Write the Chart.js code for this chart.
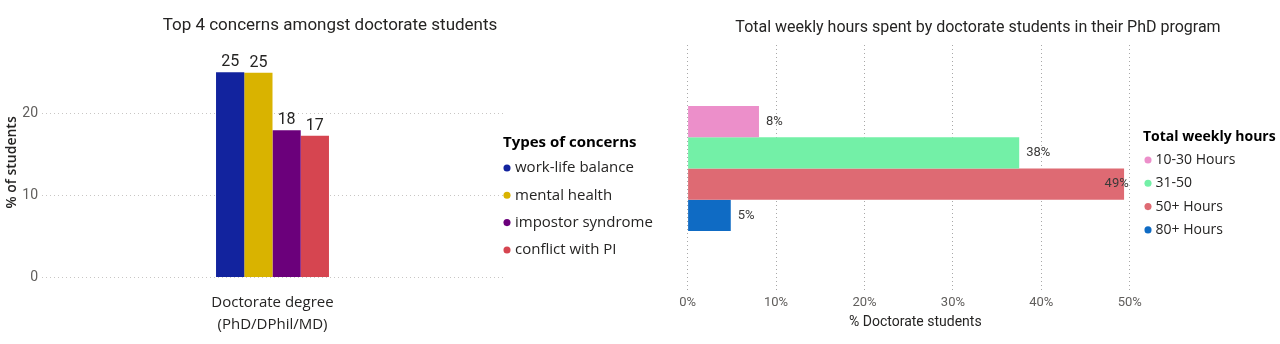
<!DOCTYPE html>
<html>
<head>
<meta charset="utf-8">
<script src="https://cdn.jsdelivr.net/npm/chart.js@4"></script>
<style>
  body { margin: 0; background: #fff; width: 1280px; height: 344px; overflow: hidden; position: relative; }
  canvas { position: absolute; top: 0; }
  #concerns { left: 0; }
  #hours { left: 676px; }
</style>
</head>
<body>
<canvas id="concerns" width="660" height="344"></canvas>
<canvas id="hours" width="604" height="344"></canvas>
<script>
// left chart: top 4 concerns
const concernCategory = [['Doctorate degree', '(PhD/DPhil/MD)']];
const concernNames = ['work-life balance', 'mental health', 'impostor syndrome', 'conflict with PI'];
const concernValues = [24.97, 24.9, 17.9, 17.25];
const concernColors = ['#12239E', '#D9B300', '#6B007B', '#D64550'];
const concernTicks = [0, 10, 20];

// right chart: weekly hours
const hoursCategory = ['Doctorate degree'];
const hoursNames = ['10-30 Hours', '31-50', '50+ Hours', '80+ Hours'];
const hoursValues = [8.07, 37.5, 49.36, 4.88];
const hoursColors = ['#EC8FCA', '#73F0A7', '#DE6A73', '#0F6BC4'];
const hoursTicks = [0, 10, 20, 30, 40, 50];

const darkText = '#252423';
const greyText = '#605e5c';

// draws the value labels next to each bar
const barLabels = {
  id: 'barLabels',
  afterDatasetsDraw(chart, args, opts) {
    const ctx = chart.ctx;
    const horizontal = chart.options.indexAxis === 'y';
    ctx.save();
    ctx.font = opts.font;
    ctx.fillStyle = opts.color;
    chart.data.datasets.forEach((ds, i) => {
      chart.getDatasetMeta(i).data.forEach((bar, j) => {
        const text = Math.round(ds.data[j]) + opts.suffix;
        if (horizontal) {
          const xs = chart.scales.x;
          const right = xs.getPixelForValue(xs.ticks[xs.ticks.length - 1].value) - 1;
          const w = ctx.measureText(text).width;
          let x = bar.x + opts.gap;
          if (x + w > right) x = right - w;
          ctx.textAlign = 'left';
          ctx.textBaseline = 'middle';
          ctx.fillText(text, x, bar.y);
        } else {
          ctx.textAlign = 'center';
          ctx.textBaseline = 'alphabetic';
          ctx.fillText(text, bar.x, bar.y - opts.gap);
        }
      });
    });
    ctx.restore();
  }
};

// legend text as one-line arrays so font lineHeight sets the row spacing;
// trailing spaces only widen the legend box so its title is not clipped
const wrapLabels = extra => chart =>
  Chart.defaults.plugins.legend.labels.generateLabels(chart)
    .map(l => ({ ...l, text: [l.text + '\u00a0'.repeat(extra)] }));

new Chart(document.getElementById('concerns'), {
  type: 'bar',
  data: {
    labels: concernCategory,
    datasets: concernNames.map((name, i) => ({
      label: name,
      data: [concernValues[i]],
      backgroundColor: concernColors[i],
      categoryPercentage: 0.245,
      barPercentage: 1
    }))
  },
  options: {
    responsive: false,
    animation: false,
    layout: { padding: 0 },
    scales: {
      x: {
        grid: { display: false },
        border: { display: false },
        ticks: { color: darkText, padding: 6, font: { family: 'Open Sans', size: 15, lineHeight: 1.49 } },
        afterFit: s => { s.height = 66.5; }
      },
      y: {
        min: 0,
        max: 28,
        afterBuildTicks: axis => { axis.ticks = concernTicks.map(v => ({ value: v })); },
        afterFit: s => { s.width = 42; },
        grid: { color: '#c8c6c4', drawTicks: false },
        border: { display: false, dash: [1, 3] },
        ticks: { color: greyText, padding: 4, font: { family: 'Roboto', size: 14 } },
        title: { display: true, text: '% of students', color: darkText, padding: { top: 4, bottom: 0 },
                 font: { family: 'Open Sans', size: 14, weight: '600', lineHeight: 1.2 } }
      }
    },
    plugins: {
      title: { display: true, text: 'Top 4 concerns amongst doctorate students', color: darkText,
               font: { family: 'Roboto', size: 17, weight: 'normal', lineHeight: 1.2 },
               padding: { top: 15.8, bottom: 11.1 } },
      legend: {
        position: 'right',
        align: 'start',
        maxWidth: 157,
        title: { display: true, text: 'Types of concerns', position: 'start', color: '#000',
                 font: { family: 'Open Sans', size: 15, weight: 'bold', lineHeight: 1.2 },
                 padding: { top: 135.5, bottom: 3.5 } },
        labels: { usePointStyle: true, pointStyle: 'circle', boxWidth: 1, boxHeight: 5, padding: 3.5,
                  color: darkText, font: { family: 'Open Sans', size: 15, lineHeight: 1.587 },
                  generateLabels: wrapLabels(0) }
      },
      tooltip: { enabled: false },
      barLabels: { font: '16px Roboto', color: darkText, suffix: '', gap: 6 }
    }
  },
  plugins: [barLabels]
});

new Chart(document.getElementById('hours'), {
  type: 'bar',
  data: {
    labels: hoursCategory,
    datasets: hoursNames.map((name, i) => ({
      label: name,
      data: [hoursValues[i]],
      backgroundColor: hoursColors[i],
      categoryPercentage: 0.506,
      barPercentage: 1
    }))
  },
  options: {
    indexAxis: 'y',
    responsive: false,
    animation: false,
    layout: { padding: 0 },
    scales: {
      x: {
        min: 0,
        max: 51.5,
        afterBuildTicks: axis => { axis.ticks = hoursTicks.map(v => ({ value: v })); },
        afterFit: s => { s.height = 52; },
        grid: { color: '#a8a8a8', drawTicks: false },
        border: { display: false, dash: [1, 3] },
        ticks: { color: greyText, padding: 3.2, font: { family: 'Roboto', size: 13 }, callback: v => v + '%' },
        title: { display: true, text: '% Doctorate students', color: darkText, padding: { top: 0, bottom: 13.6 },
                 font: { family: 'Roboto', size: 14, lineHeight: 1.2 } }
      },
      y: {
        afterFit: s => { s.width = 10; },
        grid: { display: false },
        border: { display: false },
        ticks: { display: false }
      }
    },
    plugins: {
      title: { display: true, text: 'Total weekly hours spent by doctorate students in their PhD program',
               color: darkText, font: { family: 'Roboto', size: 16, weight: 'normal', lineHeight: 1.2 },
               padding: { top: 18.4, bottom: 7.4 } },
      legend: {
        position: 'right',
        align: 'start',
        maxWidth: 137,
        title: { display: true, text: 'Total weekly hours', position: 'start', color: '#000',
                 font: { family: 'Open Sans', size: 14, weight: 'bold', lineHeight: 1.2 },
                 padding: { top: 130, bottom: 1.7 } },
        labels: { usePointStyle: true, pointStyle: 'circle', boxWidth: 1, boxHeight: 5, padding: 4.5,
                  color: darkText, font: { family: 'Open Sans', size: 14, lineHeight: 1.343 },
                  generateLabels: wrapLabels(14) }
      },
      tooltip: { enabled: false },
      barLabels: { font: '13px Roboto', color: '#3b3a39', suffix: '%', gap: 7 }
    }
  },
  plugins: [barLabels]
});
</script>
</body>
</html>
